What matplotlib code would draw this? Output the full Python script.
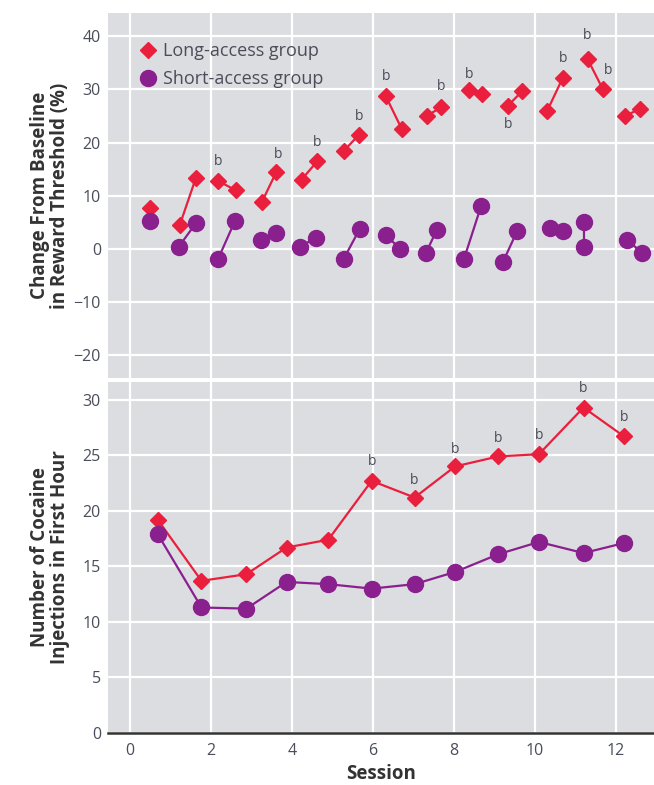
import matplotlib
matplotlib.use('Agg')
import matplotlib.pyplot as plt

# top panel: change from baseline in reward threshold, pairs of points per session
long_x = [[0.49], [1.23, 1.63], [2.17, 2.62], [3.26, 3.62], [4.24, 4.63], [5.28, 5.65],
          [6.32, 6.71], [7.33, 7.68], [8.37, 8.69], [9.33, 9.68], [10.3, 10.69],
          [11.3, 11.68], [12.22, 12.59]]
long_y = [[7.6], [4.4, 13.3], [12.8, 11.0], [8.8, 14.5], [13.0, 16.5], [18.4, 21.4],
          [28.7, 22.6], [25.0, 26.6], [29.8, 29.1], [26.9, 29.6], [25.9, 32.2],
          [35.7, 30.0], [25.0, 26.3]]
short_x = [[0.5], [1.21, 1.63], [2.18, 2.6], [3.25, 3.6], [4.2, 4.6], [5.28, 5.68],
           [6.32, 6.67], [7.31, 7.58], [8.25, 8.67], [9.21, 9.56], [10.37, 10.69],
           [11.2, 11.2], [12.27, 12.64]]
short_y = [[5.3], [0.4, 4.8], [-1.9, 5.3], [1.7, 3.0], [0.4, 2.1], [-1.9, 3.8],
           [2.6, 0.0], [-0.8, 3.6], [-1.9, 8.0], [-2.5, 3.3], [4.0, 3.4],
           [5.0, 0.4], [1.7, -0.7]]
top_b_x = [2.17, 3.65, 4.63, 5.65, 6.32, 7.68, 8.37, 9.33, 10.69, 11.3, 11.8]
top_b_y = [16.4, 17.7, 20.0, 24.8, 32.4, 30.5, 32.8, 23.4, 35.8, 40.2, 33.5]

# bottom panel: cocaine injections in first hour
inj_x = [0.69, 1.77, 2.88, 3.87, 4.9, 5.97, 7.03, 8.03, 9.1, 10.1, 11.2, 12.2]
inj_long = [19.2, 13.7, 14.3, 16.7, 17.4, 22.7, 21.2, 24.0, 24.9, 25.1, 29.3, 26.7]
inj_short = [17.9, 11.3, 11.2, 13.6, 13.4, 13.0, 13.4, 14.5, 16.1, 17.2, 16.2, 17.1]
bot_b_x = [5.97, 7.03, 8.03, 9.1, 10.1, 11.2, 12.2]
bot_b_y = [24.4, 22.7, 25.5, 26.5, 26.8, 31.0, 28.4]

red = '#ea1f3d'
purple = '#8a1f8e'
bg = '#dcdde0'
txt = '#4a4d5a'
dark = '#333333'

plt.rcParams['font.family'] = ['Open Sans', 'DejaVu Sans']

fig = plt.figure(figsize=(6.54, 7.85), dpi=100)
ax1 = fig.add_axes([0.165, 0.5185, 0.835, 0.4645])
ax2 = fig.add_axes([0.165, 0.0662, 0.835, 0.4472])

for ax in (ax1, ax2):
    ax.set_facecolor(bg)
    ax.grid(True, color='white', linewidth=1.6)
    ax.set_axisbelow(True)
    for s in ax.spines.values():
        s.set_visible(False)
    ax.tick_params(length=0, labelsize=11.5, colors=txt, pad=5)
    ax.set_xlim(-0.54, 12.94)
    ax.set_xticks(range(0, 13, 2))

# top panel
for i in range(len(long_x)):
    ax1.plot(long_x[i], long_y[i], '-D', color=red, ms=8, lw=1.6)
    ax1.plot(short_x[i], short_y[i], '-o', color=purple, ms=11.5, lw=1.6)
for bx, by in zip(top_b_x, top_b_y):
    ax1.text(bx, by, 'b', ha='center', va='center', fontsize=10, color=txt)
ax1.set_ylim(-24.3, 44.3)
ax1.set_yticks(range(-20, 41, 10))
ax1.set_xticklabels([])
ax1.set_ylabel('Change From Baseline\nin Reward Threshold (%)', fontsize=13.5,
               fontweight='bold', color=dark, linespacing=0.95)
ax1.yaxis.set_label_coords(-0.07, 0.5)

h1, = ax1.plot([], [], 'D', color=red, ms=8)
h2, = ax1.plot([], [], 'o', color=purple, ms=11.5)
ax1.legend([h1, h2], ['Long-access group', 'Short-access group'], loc='upper left',
           frameon=False, fontsize=13, handletextpad=0.1, borderaxespad=0.3,
           labelspacing=0.55, handlelength=1.5, labelcolor=txt,
           bbox_to_anchor=(0.025, 0.955))

# bottom panel
ax2.plot(inj_x, inj_long, '-D', color=red, ms=8, lw=1.6)
ax2.plot(inj_x, inj_short, '-o', color=purple, ms=11.5, lw=1.6)
for bx, by in zip(bot_b_x, bot_b_y):
    ax2.text(bx, by, 'b', ha='center', va='center', fontsize=10, color=txt)
ax2.set_ylim(0, 31.6)
ax2.set_yticks(range(0, 31, 5))
ax2.spines['bottom'].set_visible(True)
ax2.spines['bottom'].set_color(dark)
ax2.spines['bottom'].set_linewidth(1.8)
ax2.tick_params(axis='x', pad=7)
ax2.set_ylabel('Number of Cocaine\nInjections in First Hour', fontsize=13.5,
               fontweight='bold', color=dark, linespacing=0.95)
ax2.yaxis.set_label_coords(-0.07, 0.5)
ax2.set_xlabel('Session', fontsize=13.5, fontweight='bold', color=dark, labelpad=4)

fig.savefig('out.png', dpi=100)
